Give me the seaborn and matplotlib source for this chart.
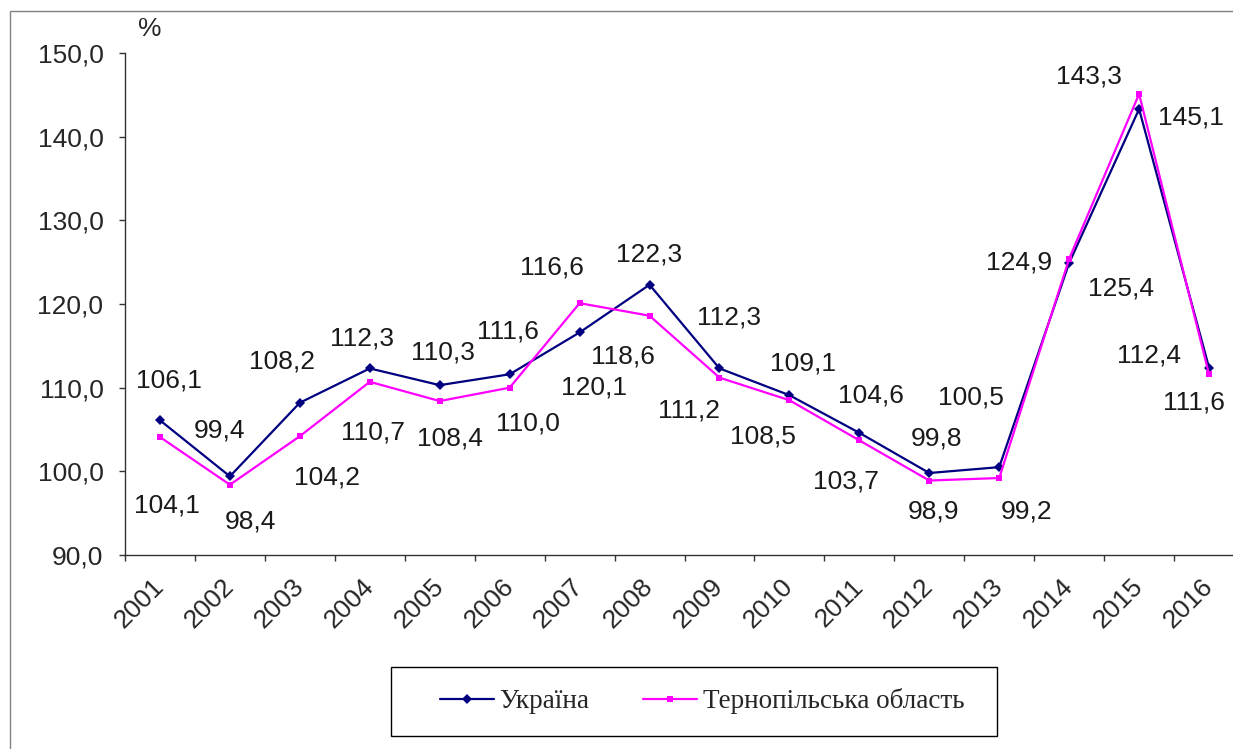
import numpy as np
import pandas as pd
import matplotlib
matplotlib.use("Agg")
import matplotlib.pyplot as plt
import matplotlib.transforms as mtransforms
from matplotlib.patches import Rectangle
from matplotlib.lines import Line2D
import seaborn as sns

years = list(range(2001, 2017))
ukraine = [106.1, 99.4, 108.2, 112.3, 110.3, 111.6, 116.6, 122.3,
           112.3, 109.1, 104.6, 99.8, 100.5, 124.9, 143.3, 112.4]
ternopil = [104.1, 98.4, 104.2, 110.7, 108.4, 110.0, 120.1, 118.6,
            111.2, 108.5, 103.7, 98.9, 99.2, 125.4, 145.1, 111.6]
series_names = ["Україна", "Тернопільська область"]
yticks = [90, 100, 110, 120, 130, 140, 150]

# where each value label sits relative to its point (pixels, +dy = down)
ukr_offsets = [(9, -40), (-10, -46), (-18, -41), (-8, -30), (3, -33), (-2, -43),
               (-28, -65), (0, -30), (10, -51), (14, -32), (12, -37), (7, -35),
               (-28, -70), (-50, -1), (-50, -33), (-60, -12)]
ter_offsets = [(7, 68), (21, 37), (27, 41), (3, 51), (10, 37), (18, 36),
               (14, 84), (-27, 41), (-30, 33), (-26, 36), (-13, 41), (4, 31),
               (27, 33), (52, 30), (52, 24), (-15, 28)]

colors = {series_names[0]: "#000080", series_names[1]: "#FF00FF"}
markers = {series_names[0]: "D", series_names[1]: "s"}

df = pd.DataFrame({
    "year": years * 2,
    "value": ukraine + ternopil,
    "region": [series_names[0]] * len(years) + [series_names[1]] * len(years),
})

sns.set_style("white")
plt.rcParams['font.family'] = ['Liberation Sans', 'DejaVu Sans']

W, H = 1233, 749
FS = 19
fig = plt.figure(figsize=(W / 100, H / 100), dpi=100)
ax = fig.add_axes([125 / W, 194 / H, 1119 / W, 502 / H])

sns.lineplot(data=df, x="year", y="value", hue="region", style="region",
             palette=colors, markers=markers, dashes=False, markersize=5,
             markeredgewidth=0, linewidth=1.6, legend=False, zorder=7, ax=ax)

ax.set_xlim(years[0] - 0.5, years[-1] + 0.5)
ax.set_ylim(yticks[0], yticks[-1])
ax.set_yticks(yticks)
ax.set_yticklabels([f"{t:.1f}".replace(".", ",") for t in yticks], fontsize=FS)
ax.set_xticks(years)
ax.set_xticklabels([str(y) for y in years], fontsize=FS)
ax.set_xticks([y - 0.5 for y in years] + [years[-1] + 0.5], minor=True)
ax.set_xlabel("")
ax.set_ylabel("")

shift = mtransforms.ScaledTranslation(5 / 72, 0, fig.dpi_scale_trans)
for lab in ax.get_xticklabels():
    lab.set(rotation=45, ha="right", va="center", rotation_mode="anchor")
    lab.set_transform(lab.get_transform() + shift)

ax.tick_params(axis="x", which="major", length=0, pad=20)
ax.tick_params(axis="x", which="minor", length=4.5, width=1, color="#333333",
               direction="out", bottom=True)
ax.tick_params(axis="y", length=4.5, width=1, color="#333333", direction="out",
               left=True, pad=11)

for side in ["top", "right"]:
    ax.spines[side].set_visible(False)
for side in ["left", "bottom"]:
    ax.spines[side].set_color("#333333")
    ax.spines[side].set_linewidth(1)

# value labels
for vals, offs in [(ukraine, ukr_offsets), (ternopil, ter_offsets)]:
    for x, v, (dx, dy) in zip(years, vals, offs):
        ax.annotate(f"{v:.1f}".replace(".", ","), (x, v), xytext=(dx, -dy),
                    textcoords="offset pixels", ha="center", va="center",
                    fontsize=FS, color="#1a1a1a", zorder=6, annotation_clip=False,
                    bbox=dict(boxstyle="square,pad=0.1", fc="white", ec="none"))

fig.text(150 / W, 1 - 29 / H, "%", ha="center", va="center", fontsize=FS)

# outer frame (cut by the image edge at right and bottom)
fig.add_artist(Rectangle((10 / W, -0.1), 1.2, 1 - 11 / H + 0.1, fill=False,
                         edgecolor="#808080", linewidth=1,
                         transform=fig.transFigure))

# legend
fig.add_artist(Rectangle((391 / W, 1 - 736 / H), (997 - 391) / W, (736 - 667) / H,
                         fill=False, edgecolor="black", linewidth=1,
                         transform=fig.transFigure))
handles = [Line2D([], [], color=colors[n], marker=markers[n], markersize=5,
                  markeredgewidth=0, linewidth=1.6) for n in series_names]
fig.legend(handles, series_names, loc="center", bbox_to_anchor=(702 / W, 1 - 701 / H),
           ncol=2, frameon=False, handlelength=2.0, handletextpad=0.2,
           columnspacing=2.0, prop={"family": "Liberation Serif", "size": 19.5})

fig.savefig("out.png", dpi=100, facecolor="white")
